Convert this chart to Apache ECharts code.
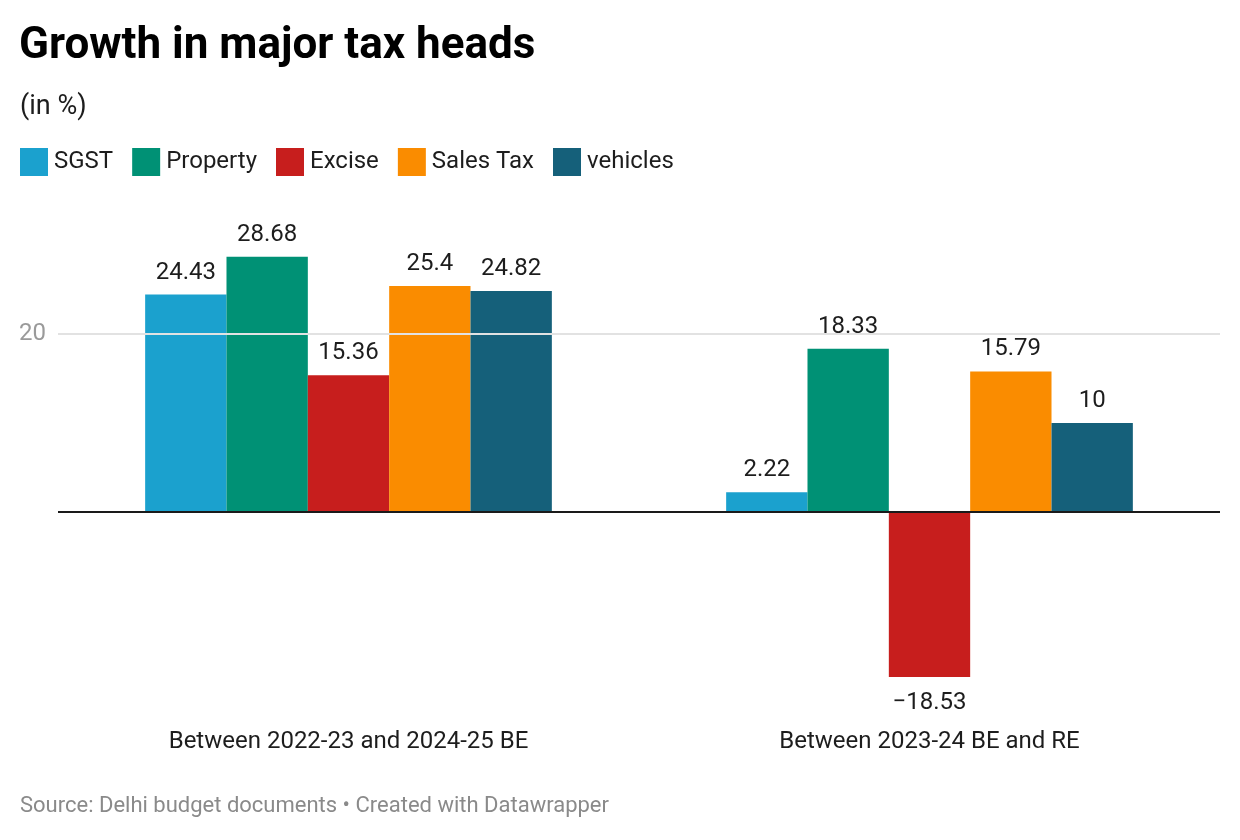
<!DOCTYPE html>
<html>
<head>
<meta charset="utf-8">
<script src="https://cdn.jsdelivr.net/npm/echarts@6/dist/echarts.min.js"></script>
<style>html,body{margin:0;padding:0;background:#fff;}#c{width:1240px;height:840px;}</style>
</head>
<body>
<div id="c"></div>
<script>
const categories = ['Between 2022-23 and 2024-25 BE', 'Between 2023-24 BE and RE'];
const seriesNames = ['SGST', 'Property', 'Excise', 'Sales Tax', 'vehicles'];
const sgst = [24.43, 2.22];
const property = [28.68, 18.33];
const excise = [15.36, -18.53];
const salesTax = [25.4, 15.79];
const vehicles = [24.82, 10];
const yTickLabels = ['20'];
const colors = ['#1ba1ce', '#009175', '#c71e1d', '#fa8c00', '#15607a'];

const values = [sgst, property, excise, salesTax, vehicles];
const FONT = 'Roboto';

const chart = echarts.init(document.getElementById('c'));
const series = seriesNames.map((name, i) => ({
  name: name,
  type: 'bar',
  barGap: '0%',
  barCategoryGap: '30%',
  itemStyle: { color: colors[i] },
  data: values[i].map(v => ({
    value: v,
    label: v < 0 ? { position: 'bottom', distance: 14 } : { position: 'top', distance: 10 }
  })),
  label: {
    show: true,
    color: '#1d1d1d',
    fontFamily: FONT,
    fontSize: 24,
    formatter: p => String(p.value).replace('-', '\u2212')
  },
  markLine: i === 0 ? {
    silent: true,
    symbol: 'none',
    label: { show: false },
    data: [
      { yAxis: 20, lineStyle: { color: '#e2e2e2', width: 2, type: 'solid' } },
      { yAxis: 0, lineStyle: { color: '#1a1a1a', width: 2, type: 'solid' } }
    ]
  } : undefined
}));

chart.setOption({
  animation: false,
  textStyle: { fontFamily: FONT },
  title: [
    { text: 'Growth in major tax heads', left: 19, top: 25, padding: 0,
      textStyle: { fontFamily: FONT, fontSize: 44, fontWeight: 'bold', color: '#000' } },
    { text: '(in %)', left: 20, top: 94, padding: 0,
      textStyle: { fontFamily: FONT, fontSize: 27, fontWeight: 'normal', color: '#1d1d1d' } },
    { text: 'Source: Delhi budget documents \u2022 Created with Datawrapper', left: 20, top: 795, padding: 0,
      textStyle: { fontFamily: FONT, fontSize: 22, fontWeight: 'normal', color: '#8a8a8a' } }
  ],
  legend: {
    left: 20, top: 148, padding: 0,
    itemWidth: 28, itemHeight: 28, itemGap: 19,
    icon: 'rect',
    data: seriesNames,
    textStyle: { fontFamily: FONT, fontSize: 24, color: '#1d1d1d', padding: [0, 0, 0, 1] },
    selectedMode: false
  },
  grid: { left: 58, right: 20, top: 245, bottom: 150, containLabel: false },
  xAxis: {
    type: 'category',
    data: categories,
    axisLine: { show: false },
    axisTick: { show: false },
    axisLabel: { margin: 40, fontFamily: FONT, fontSize: 24, color: '#1d1d1d' }
  },
  yAxis: {
    type: 'value',
    min: -20, max: 30, interval: 10,
    axisLine: { show: false },
    axisTick: { show: false },
    splitLine: { show: false },
    axisLabel: {
      margin: 12, fontFamily: FONT, fontSize: 24, color: '#9a9a9a',
      formatter: v => (yTickLabels.indexOf(String(v)) >= 0 ? String(v) : '')
    }
  },
  series: series
});
</script>
</body>
</html>
